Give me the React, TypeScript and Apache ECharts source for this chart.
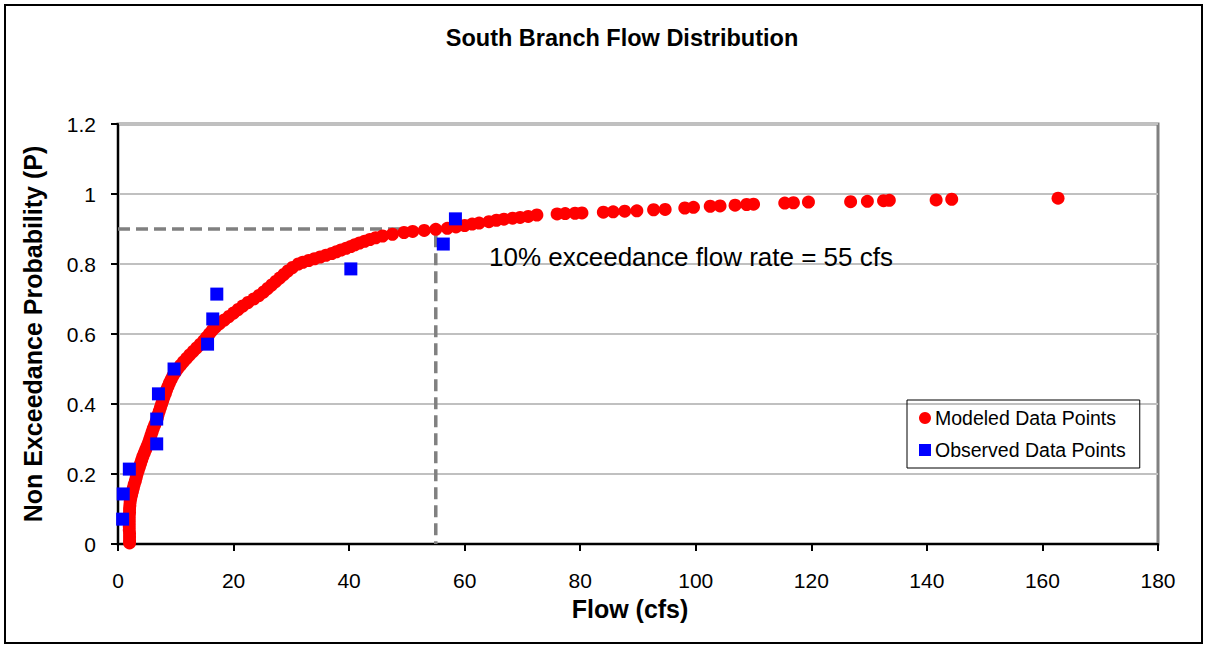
import React, { useEffect, useRef } from "react";
import * as echarts from "echarts";

const chartTitle = "South Branch Flow Distribution";
const xAxisName = "Flow (cfs)";
const yAxisName = "Non Exceedance Probability (P)";
const annotationText = "10% exceedance flow rate = 55 cfs";

// Modeled data points: flow (cfs) and non-exceedance probability
const modeledFlow = [
  2.0, 2.0, 2.0, 2.0, 1.95, 1.95, 1.95, 1.95, 1.95, 2.0, 2.0, 2.05, 2.1, 2.2, 2.35, 2.5, 2.65, 2.8, 3.0, 3.15,
  3.3, 3.5, 3.7, 3.9, 4.1, 4.3, 4.55, 4.8, 5.05, 5.3, 5.5, 5.7, 5.9, 6.1, 6.35, 6.6, 6.8, 6.95, 7.15, 7.35,
  7.55, 7.75, 7.95, 8.2, 8.4, 8.65, 8.9, 9.2, 9.5, 9.9, 10.3, 10.8, 11.3, 11.85, 12.4, 13.0, 13.6, 14.2, 14.8, 15.3,
  15.8, 16.3, 16.9, 17.6, 18.4, 19.2, 20.0, 20.8, 21.6, 22.5, 23.5, 24.4, 25.2, 25.9, 26.6, 27.3, 28.0, 28.7, 29.4, 30.2,
  31.2, 32.0, 33.0, 34.0, 35.0, 36.0, 37.0, 37.8, 38.6, 39.5, 40.3, 41.0, 41.8, 42.7, 43.6, 44.6, 45.8, 47.5, 49.5, 51.0,
  53.0, 55.0, 57.0, 58.5, 60.0, 61.3, 62.5, 64.2, 65.5, 66.8, 68.3, 69.6, 71.0, 72.5,
  76.0, 77.4, 79.1, 80.3, 84.0, 85.7, 87.7, 89.8, 92.7, 94.7, 98.1, 99.6, 102.5, 104.2, 106.8, 108.8, 110.0,
  115.4, 116.9, 119.5, 126.8, 129.7, 132.5, 133.5, 141.6, 144.3, 162.7,
];
const modeledProb = [
  0.003, 0.01, 0.02, 0.03, 0.04, 0.05, 0.06, 0.07, 0.08, 0.09, 0.1, 0.11, 0.12, 0.13, 0.14, 0.15, 0.16, 0.17, 0.18, 0.19,
  0.2, 0.21, 0.22, 0.23, 0.24, 0.25, 0.26, 0.27, 0.28, 0.29, 0.3, 0.31, 0.32, 0.33, 0.34, 0.35, 0.36, 0.37, 0.38, 0.39,
  0.4, 0.41, 0.42, 0.43, 0.44, 0.45, 0.46, 0.47, 0.48, 0.49, 0.5, 0.51, 0.52, 0.53, 0.54, 0.55, 0.56, 0.57, 0.58, 0.59,
  0.6, 0.61, 0.62, 0.63, 0.64, 0.65, 0.66, 0.67, 0.68, 0.69, 0.7, 0.71, 0.72, 0.73, 0.74, 0.75, 0.76, 0.77, 0.78, 0.79,
  0.8, 0.805, 0.81, 0.815, 0.82, 0.825, 0.83, 0.835, 0.84, 0.845, 0.85, 0.855, 0.86, 0.865, 0.87, 0.875, 0.88, 0.885, 0.89, 0.893,
  0.896, 0.899, 0.902, 0.906, 0.91, 0.914, 0.917, 0.921, 0.925, 0.928, 0.931, 0.933, 0.936, 0.94,
  0.943, 0.944, 0.945, 0.946, 0.948, 0.949, 0.951, 0.952, 0.955, 0.956, 0.96, 0.962, 0.965, 0.966, 0.968, 0.97, 0.971,
  0.974, 0.975, 0.977, 0.978, 0.979, 0.981, 0.982, 0.983, 0.985, 0.988,
];

// Observed data points
const observedFlow = [0.8, 0.9, 1.96, 6.7, 6.7, 7.0, 9.7, 15.5, 16.4, 17.1, 40.3, 56.3, 58.4];
const observedProb = [0.071, 0.143, 0.214, 0.286, 0.357, 0.429, 0.5, 0.571, 0.643, 0.714, 0.786, 0.857, 0.929];

// 10% exceedance reference
const exceedanceFlow = 55;
const exceedanceProb = 0.9;

const xTicks = { min: 0, max: 180, interval: 20 };
const yTicks = { min: 0, max: 1.2, interval: 0.2 };

const FONT = '"Liberation Sans", Arial, sans-serif';

export default function App() {
  const ref = useRef<HTMLDivElement>(null);

  useEffect(() => {
    if (!ref.current) return;
    const chart = echarts.init(ref.current, undefined, { renderer: "svg" });

    const modeled = modeledFlow.map((f, i) => [f, modeledProb[i]]);
    const observed = observedFlow.map((f, i) => [f, observedProb[i]]);
    const refLine = [
      [xTicks.min, exceedanceProb],
      [exceedanceFlow, exceedanceProb],
      [exceedanceFlow, yTicks.min],
    ];

    chart.setOption({
      animation: false,
      backgroundColor: "#ffffff",
      textStyle: { fontFamily: FONT },
      title: {
        text: chartTitle,
        left: 617,
        top: 21,
        textAlign: "center",
        textStyle: { fontFamily: FONT, fontSize: 23.5, fontWeight: "bold", color: "#000" },
      },
      grid: {
        left: 118,
        top: 124,
        width: 1040,
        height: 420,
        show: true,
        borderColor: "#808080",
        borderWidth: 3,
        backgroundColor: "#ffffff",
      },
      legend: {
        left: 907,
        top: 400,
        orient: "vertical",
        borderColor: "#000",
        borderWidth: 1,
        borderRadius: 0,
        padding: [8, 14, 8, 12],
        itemGap: 12,
        itemWidth: 12,
        itemHeight: 12,
        textStyle: { fontFamily: FONT, fontSize: 19.5, color: "#000", padding: [0, 0, 0, -1] },
        data: [
          { name: "Modeled Data Points", icon: "circle" },
          { name: "Observed Data Points", icon: "rect" },
        ],
      },
      xAxis: {
        type: "value",
        min: xTicks.min,
        max: xTicks.max,
        interval: xTicks.interval,
        name: xAxisName,
        nameLocation: "middle",
        nameGap: 52,
        nameTextStyle: {
          fontFamily: FONT,
          fontSize: 25,
          fontWeight: "bold",
          color: "#000",
          padding: [0, 16, 0, 0],
        },
        axisLine: { show: true, lineStyle: { color: "#000", width: 2 } },
        axisTick: { show: true, length: 7, lineStyle: { color: "#000", width: 2 } },
        axisLabel: { fontFamily: FONT, fontSize: 21, color: "#000", margin: 26 },
        splitLine: { show: false },
      },
      yAxis: {
        type: "value",
        min: yTicks.min,
        max: yTicks.max,
        interval: yTicks.interval,
        name: yAxisName,
        nameLocation: "middle",
        nameGap: 73,
        nameTextStyle: { fontFamily: FONT, fontSize: 25, fontWeight: "bold", color: "#000" },
        axisLine: { show: true, lineStyle: { color: "#000", width: 2 } },
        axisTick: { show: true, length: 7, lineStyle: { color: "#000", width: 2 } },
        axisLabel: { fontFamily: FONT, fontSize: 21, color: "#000", margin: 22 },
        splitLine: { show: true, lineStyle: { color: "#c0c0c0", width: 2 } },
      },
      series: [
        {
          name: "10% exceedance",
          type: "line",
          data: refLine,
          symbol: "none",
          silent: true,
          z: 1,
          lineStyle: { color: "#808080", width: 3.5, type: [12, 6] },
        },
        {
          name: "Modeled Data Points",
          type: "scatter",
          data: modeled,
          symbol: "circle",
          symbolSize: 13,
          z: 2,
          itemStyle: { color: "#ff0000", opacity: 1 },
        },
        {
          name: "Observed Data Points",
          type: "scatter",
          data: observed,
          symbol: "rect",
          symbolSize: 13,
          z: 3,
          itemStyle: { color: "#0000ff", opacity: 1 },
        },
      ],
      graphic: [
        {
          type: "rect",
          shape: { x: 5, y: 5, width: 1197, height: 638 },
          style: { fill: "none", stroke: "#000", lineWidth: 2 },
          silent: true,
          z: -10,
        },
        {
          type: "text",
          x: 489,
          y: 257,
          style: {
            text: annotationText,
            font: `26px ${FONT}`,
            fill: "#000",
            textAlign: "left",
            textVerticalAlign: "middle",
          },
          z: 10,
        },
      ],
    });

    return () => chart.dispose();
  }, []);

  return (
    <div
      ref={ref}
      style={{ position: "absolute", left: 0, top: 0, width: 1208, height: 648 }}
    />
  );
}
